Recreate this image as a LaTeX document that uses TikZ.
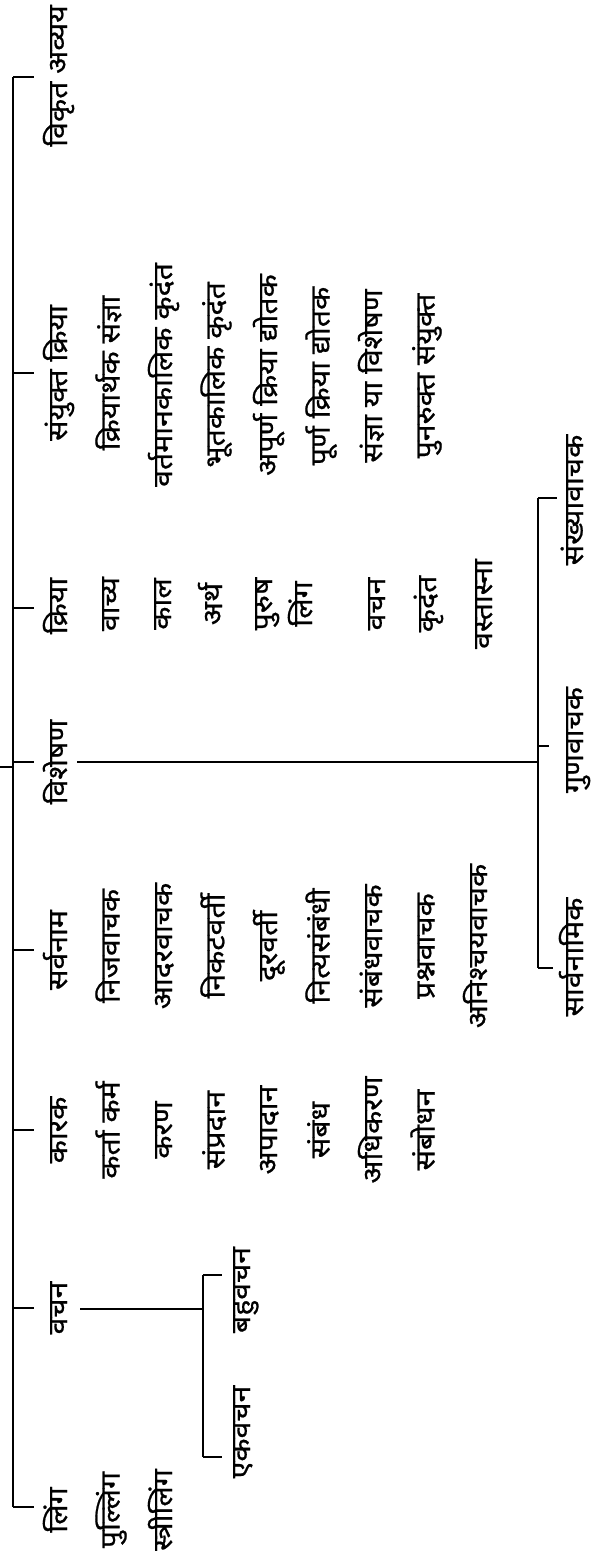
\documentclass[tikz,border=0pt]{standalone}
\usepackage{fontspec}
\newfontfamily\dev[Script=Devanagari,FakeStretch=1.12,FakeBold=0.7]{Noto Sans}
\begin{document}
\begin{tikzpicture}[x=1pt,y=-1pt,
  lbl/.style={rotate=90, anchor=base, inner sep=0pt, font=\dev\fontsize{27}{30}\selectfont},
  trunk/.style={line width=2.2pt},
  brk/.style={line width=1.7pt}]
\useasboundingbox (0,0) rectangle (595,1555);

% ---------- headings ----------
\node[lbl] (ling)    at (67,1510) {लिंग};
\node[lbl] (vachan)  at (67,1308) {वचन};
\node[lbl] (karak)   at (67,1130) {कारक};
\node[lbl] (sarv)    at (67,950)  {सर्वनाम};
\node[lbl] (vish)    at (67,762)  {विशेषण};
\node[lbl] (kriya)   at (67,606)  {क्रिया};
\node[lbl] (sanyukt) at (67,373)  {संयुक्त क्रिया};
\node[lbl] (vikrit)  at (67,76)   {विकृत अव्यय};

% ---------- लिंग ----------
\node[lbl] (l1) at (119.5,1510) {पुल्लिंग};
\node[lbl] (l2) at (172,1510)   {स्त्रीलिंग};

% ---------- वचन ----------
\node[lbl] (bahu) at (250,1290) {बहुवचन};
\node[lbl] (ek)   at (250,1432) {एकवचन};

% ---------- कारक ----------
\node[lbl] (k1) at (119.5,1130) {कर्ता कर्म};
\node[lbl] (k2) at (172,1130)   {करण};
\node[lbl] (k3) at (224.5,1130) {संप्रदान};
\node[lbl] (k4) at (277,1130)   {अपादान};
\node[lbl] (k5) at (329.5,1130) {संबंध};
\node[lbl] (k6) at (382,1130)   {अधिकरण};
\node[lbl] (k7) at (434.5,1130) {संबोधन};

% ---------- सर्वनाम ----------
\node[lbl] (s1) at (119.5,946) {निजवाचक};
\node[lbl] (s2) at (172,946)   {आदरवाचक};
\node[lbl] (s3) at (224.5,946) {निकटवर्ती};
\node[lbl] (s4) at (277,946)   {दूरवर्ती};
\node[lbl] (s5) at (329.5,946) {नित्यसंबंधी};
\node[lbl] (s6) at (382,946)   {संबंधवाचक};
\node[lbl] (s7) at (434.5,946) {प्रश्नवाचक};
\node[lbl] (s8) at (487,946)   {अनिश्चयवाचक};

% ---------- विशेषण ----------
\node[lbl] (v1) at (583,957) {सार्वनामिक};
\node[lbl] (v2) at (583,740) {गुणवाचक};
\node[lbl] (v3) at (583,500) {संख्यावाचक};

% ---------- क्रिया ----------
\node[lbl] (c1) at (119,604) {वाच्य};
\node[lbl] (c2) at (171,604) {काल};
\node[lbl] (c3) at (222,604) {अर्थ};
\node[lbl] (c4) at (272,604) {पुरुष};
\node[lbl] (c5) at (312,604) {लिंग};
\node[lbl] (c6) at (385,604) {वचन};
\node[lbl] (c7) at (436,604) {कृदंत};
\node[lbl] (c8) at (492,604) {वस्तास्ना};

% ---------- संयुक्त क्रिया ----------
\node[lbl] (u1) at (119.5,373) {क्रियार्थक संज्ञा};
\node[lbl] (u2) at (172,375)   {वर्तमानकालिक कृदंत};
\node[lbl] (u3) at (224.5,375) {भूतकालिक कृदंत};
\node[lbl] (u4) at (277,375)   {अपूर्ण क्रिया द्योतक};
\node[lbl] (u5) at (329.5,376) {पूर्ण क्रिया द्योतक};
\node[lbl] (u6) at (382,376)   {संज्ञा या विशेषण};
\node[lbl] (u7) at (434.5,376) {पुनरुक्त संयुक्त};

% ---------- trunk ----------
\coordinate (tVikrit)  at (13,77);
\coordinate (tSanyukt) at (13,373);
\coordinate (tKriya)   at (13,608);
\coordinate (tVish)    at (13,762);
\coordinate (tSarv)    at (13,950);
\coordinate (tKarak)   at (13,1130);
\coordinate (tVachan)  at (13,1308);
\coordinate (tLing)    at (13,1507);
\coordinate (root)     at (0,767);
\coordinate (rootJ)    at (13,767);

\draw[trunk] (tVikrit) -- (tLing);
\draw[trunk] (root) -- (rootJ);
\foreach \t in {tVikrit,tSanyukt,tKriya,tVish,tSarv,tKarak,tVachan,tLing}
  \draw[trunk] (\t) -- ++(21,0);

% ---------- वचन bracket ----------
\coordinate (vcA)  at (80,1309);
\coordinate (vcJ)  at (203,1309);
\coordinate (vcT)  at (203,1275);
\coordinate (vcB)  at (203,1457);
\draw[brk] (vcA) -- (vcJ);
\draw[brk] (vcT) -- (vcB);
\draw[brk] (vcT) -- ++(19,0);
\draw[brk] (vcB) -- ++(19,0);

% ---------- विशेषण bracket ----------
\coordinate (vsA) at (77,762);
\coordinate (vsJ) at (538,762);
\coordinate (vsT) at (538,498);
\coordinate (vsB) at (538,968);
\coordinate (vsM) at (538,746);
\draw[brk] (vsA) -- (vsJ);
\draw[brk] (vsT) -- (vsB);
\draw[brk] (vsT) -- ++(19,0);
\draw[brk] (vsM) -- ++(11,0);
\draw[brk] (vsB) -- ++(15,0);
\end{tikzpicture}
\end{document}
